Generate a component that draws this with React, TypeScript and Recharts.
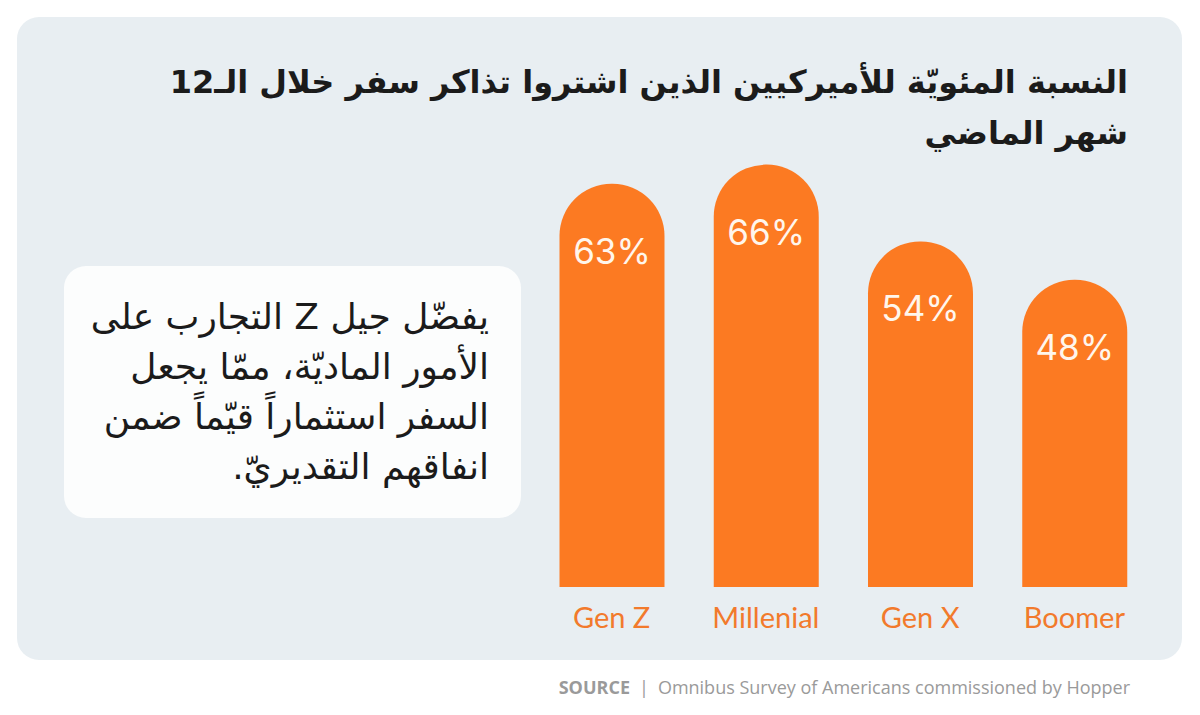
import { Bar, BarChart, LabelList, XAxis, YAxis } from 'recharts'

const generations = ['Gen Z', 'Millenial', 'Gen X', 'Boomer']
const shares = [63, 66, 54, 48]
const titleLines = ['النسبة المئويّة للأميركيين الذين اشتروا تذاكر سفر خلال الـ12', 'شهر الماضي']
const noteLines = ['يفضّل جيل Z التجارب على', 'الأمور الماديّة، ممّا يجعل', 'السفر استثماراً قيّماً ضمن', 'انفاقهم التقديريّ.']
const sourceName = 'Omnibus Survey of Americans commissioned by Hopper'

const data = generations.map((g, i) => ({ name: g, value: shares[i] }))

const ORANGE = '#FC7A22'

const CategoryTick = (props: any) => {
  const { x, y, payload } = props
  return (
    <text x={x} y={y + 41} textAnchor="middle" fill="#F27A2C" fontSize={29} fontFamily="Lato, sans-serif">
      {payload.value}
    </text>
  )
}

const ValueLabel = (props: any) => {
  const { x, y, width, value } = props
  return (
    <text x={x + width / 2} y={y + 80} textAnchor="middle" fill="#FFF6EC" fontSize={35} fontFamily="Inter, sans-serif">
      {value}%
    </text>
  )
}

export default function App() {
  return (
    <div style={{ position: 'absolute', left: 0, top: 0, width: 1200, height: 715, background: '#fff', overflow: 'hidden' }}>
      <div style={{ position: 'absolute', left: 17, top: 17, width: 1165, height: 643, borderRadius: 22, background: '#E8EEF2' }} />
      <div
        style={{
          position: 'absolute', right: 72, top: 57, width: 1000, direction: 'rtl', textAlign: 'right',
          fontFamily: '"DejaVu Sans", sans-serif', fontWeight: 'bold', fontSize: 32, lineHeight: '51px', color: '#1b1b1b',
        }}
      >
        {titleLines.map((l) => <div key={l}>{l}</div>)}
      </div>
      <div style={{ position: 'absolute', left: 64, top: 266, width: 457, height: 252, borderRadius: 22, background: '#FCFDFD' }} />
      <div
        style={{
          position: 'absolute', right: 1200 - 489, top: 292, width: 440, direction: 'rtl', textAlign: 'right',
          fontFamily: '"DejaVu Sans", sans-serif', fontSize: 36, lineHeight: '50px', color: '#1b1b1b',
        }}
      >
        {noteLines.map((l) => <div key={l}>{l}</div>)}
      </div>
      <div style={{ position: 'absolute', left: 0, top: 0 }}>
        <BarChart width={1200} height={715} data={data} margin={{ top: 139, right: 48.5, bottom: 0, left: 534.5 }} barSize={105}>
          <YAxis hide domain={[0, 70]} />
          <XAxis dataKey="name" axisLine={false} tickLine={false} tickSize={0} tickMargin={0} tick={<CategoryTick />} interval={0} height={128} />
          <Bar dataKey="value" fill={ORANGE} radius={[52, 52, 0, 0]} isAnimationActive={false}>
            <LabelList dataKey="value" content={<ValueLabel />} />
          </Bar>
        </BarChart>
      </div>
      <div
        style={{
          position: 'absolute', right: 70, top: 675, fontFamily: '"Open Sans", sans-serif', fontSize: 18, color: '#9a9a9a', whiteSpace: 'nowrap',
        }}
      >
        <span style={{ fontWeight: 'bold' }}>SOURCE</span>
        <span style={{ margin: '0 9px' }}>|</span>
        <span>{sourceName}</span>
      </div>
    </div>
  )
}
